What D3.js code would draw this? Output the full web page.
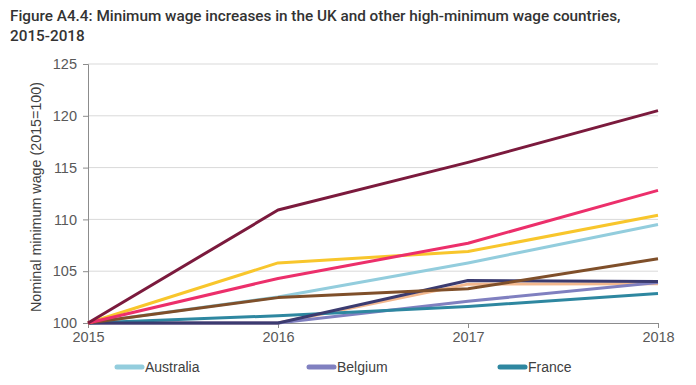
<!DOCTYPE html>
<html><head><meta charset="utf-8">
<script src="https://cdn.jsdelivr.net/npm/d3@7"></script>
<style>body{margin:0;background:#fff;} svg{display:block;}</style>
</head><body>
<svg id="c" width="696" height="385"></svg>
<script>
const years = [2015, 2016, 2017, 2018];
const yTicks = [100, 105, 110, 115, 120, 125];
const seriesNames = ["Australia", "Belgium", "France", "Germany", "Ireland", "Luxembourg", "Netherlands", "New Zealand", "UK"];
const australia = [100, 102.5, 105.8, 109.5];
const belgium = [100, 100, 102.1, 103.9];
const france = [100, 100.7, 101.6, 102.85];
const germany = [100, 100, 104.1, 104.0];
const ireland = [100, 105.8, 106.9, 110.4];
const luxembourg = [100, 100, 103.75, 103.8];
const netherlands = [100, 102.45, 103.3, 106.2];
const newZealand = [100, 104.3, 107.7, 112.8];
const uk = [100, 110.9, 115.5, 120.5];
const seriesValues = [australia, belgium, france, germany, ireland, luxembourg, netherlands, newZealand, uk];
const colors = ["#93cddd", "#8080c0", "#2e87a0", "#3b3b70", "#f8c62c", "#f3b88e", "#7f4f2a", "#ec2f6b", "#7b1a3d"];
const drawOrder = [5, 0, 1, 2, 3, 6, 4, 7, 8];

const svg = d3.select("#c");
const x = d3.scaleLinear().domain([2015, 2018]).range([88, 658]);
const y = d3.scaleLinear().domain([100, 125]).range([323, 64]);

// title
svg.append("text").attr("x", 10).attr("y", 21).attr("font-family", "Roboto").attr("font-weight", 500)
  .attr("font-size", 15.3).attr("fill", "#333").text("Figure A4.4: Minimum wage increases in the UK and other high-minimum wage countries,");
svg.append("text").attr("x", 10).attr("y", 41).attr("font-family", "Roboto").attr("font-weight", 500)
  .attr("font-size", 15.3).attr("fill", "#333").text("2015-2018");

// gridlines
svg.append("g").selectAll("line").data(yTicks.filter(d => d > 100)).join("line")
  .attr("x1", 88).attr("x2", 658).attr("y1", d => y(d)).attr("y2", d => y(d))
  .attr("stroke", "#d9d9d9").attr("stroke-width", 1);

// y axis
const yAxis = svg.append("g").attr("transform", "translate(88,0)")
  .call(d3.axisLeft(y).tickValues(yTicks).tickSize(5).tickPadding(6));
yAxis.select(".domain").attr("stroke", "#8c8c8c");
yAxis.selectAll(".tick line").attr("stroke", "#8c8c8c");
yAxis.selectAll("text").attr("font-family", "Liberation Sans, Arial").attr("font-size", 14.5).attr("fill", "#595959");

// x axis
const xAxis = svg.append("g").attr("transform", "translate(0,323)")
  .call(d3.axisBottom(x).tickValues(years).tickFormat(d3.format("d")).tickSize(5).tickPadding(4));
xAxis.select(".domain").attr("stroke", "#8c8c8c");
xAxis.selectAll(".tick line").attr("stroke", "#8c8c8c");
xAxis.selectAll("text").attr("font-family", "Liberation Sans, Arial").attr("font-size", 14.5).attr("fill", "#595959");

// y label
svg.append("text").attr("transform", "translate(41,197) rotate(-90)").attr("text-anchor", "middle")
  .attr("font-family", "Liberation Sans, Arial").attr("font-size", 14.3).attr("fill", "#404040")
  .text("Nominal minimum wage (2015=100)");

// lines
const line = d3.line().x((d, i) => x(years[i])).y(d => y(d));
svg.append("g").selectAll("path").data(drawOrder).join("path")
  .attr("d", i => line(seriesValues[i])).attr("fill", "none")
  .attr("stroke", i => colors[i]).attr("stroke-width", 3).attr("stroke-linejoin", "round");

// legend (only first row fits in view)
const legX = [115, 307, 498];
const leg = svg.append("g").selectAll("g").data(seriesNames.slice(0, 3)).join("g")
  .attr("transform", (d, i) => `translate(${legX[i]},367)`);
leg.append("line").attr("x1", 2).attr("x2", 27).attr("y1", 0).attr("y2", 0)
  .attr("stroke", (d, i) => colors[i]).attr("stroke-width", 5).attr("stroke-linecap", "round");
leg.append("text").attr("x", 30).attr("y", 5).attr("font-family", "Liberation Sans, Arial")
  .attr("font-size", 14).attr("fill", "#404040").text(d => d);
</script>
</body></html>
